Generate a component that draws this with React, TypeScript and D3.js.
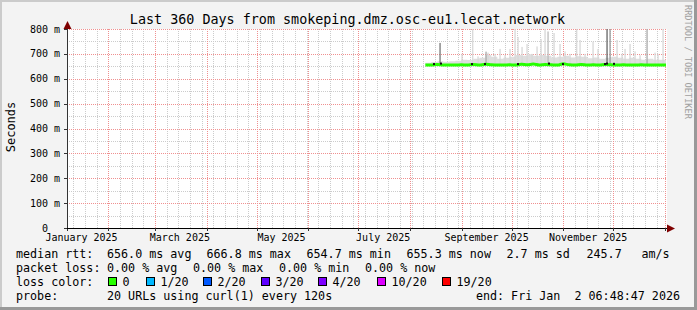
import React, { useEffect } from 'react';
import * as d3 from 'd3';

// time range of the graph (rrdtool "last 360 days")
const END = Date.UTC(2026, 0, 2, 6, 48, 47);
const START = END - 360 * 86400000;

// samples: days after START
const sampleDays = [215, 218.6, 222.2, 225.8, 229.4, 233, 236.6, 240.2, 243.8, 247.4, 251, 254.6, 258.2, 261.8, 265.4, 269, 272.6, 276.2, 279.8, 283.4, 287, 290.6, 294.2, 297.8, 301.4, 305, 308.6, 312.2, 315.8, 319.4, 323, 326.6, 330.2, 333.8, 337.4, 341, 344.6, 348.2, 351.8, 355.4, 359.4];
// median rtt (ms)
const medianRtt = [655, 655, 657, 655, 655, 655, 656, 655, 657, 655, 658, 656, 655, 655, 656, 655, 658, 656, 659, 655, 657, 656, 655, 660, 656, 655, 657, 655, 656, 655, 657, 656, 655, 656, 655, 655, 656, 655, 655, 655, 655];
// upper edge of the regular smoke band (ms)
const smokeTop = [664, 667, 670, 668, 670, 672, 676, 675, 680, 684, 695, 688, 680, 684, 688, 695, 692, 698, 692, 695, 692, 685, 688, 692, 685, 690, 688, 682, 685, 680, 684, 688, 684, 680, 684, 680, 676, 680, 676, 676, 675];

// single spikes in the smoke
const spikeDays = [223.8, 243.4, 251.4, 252.6, 268.8, 270.6, 273, 276, 284.4, 286.8, 288.6, 292.2, 295.8, 305.8, 307.8, 315.6, 324, 325.8, 330, 334.8, 337.8, 348, 357.6,
    237, 246.6, 256.8, 259.8, 262.8, 265.8, 279, 282, 298.8, 301.8, 310.8, 318.6, 333, 340.8, 343.8, 352.8, 354.6];
const spikeTop = [744, 800, 709, 705, 800, 768, 728, 740, 760, 800, 790, 784, 740, 800, 756, 749, 800, 800, 756, 720, 740, 800, 800,
    700, 690, 700, 720, 695, 720, 700, 730, 710, 700, 700, 720, 700, 710, 695, 705, 700];
const spikeShade = ['#777', '#d8d8d8', '#aaa', '#d8d8d8', '#d8d8d8', '#d8d8d8', '#d8d8d8', '#d8d8d8', '#d8d8d8', '#d8d8d8', '#bbb', '#d8d8d8', '#d8d8d8', '#d8d8d8', '#d8d8d8', '#d8d8d8', '#666', '#999', '#d8d8d8', '#d8d8d8', '#d8d8d8', '#aaa', '#d8d8d8',
    '#d8d8d8', '#d8d8d8', '#d8d8d8', '#d8d8d8', '#d8d8d8', '#d8d8d8', '#d8d8d8', '#d8d8d8', '#d8d8d8', '#d8d8d8', '#d8d8d8', '#d8d8d8', '#d8d8d8', '#d8d8d8', '#d8d8d8', '#d8d8d8', '#d8d8d8'];
// dark marks sitting on the median
const darkDays = [220.2, 224.4, 243, 250.8, 270.6, 289.2, 297.6, 322.8, 324, 328.2];

const yTicks = [0, 100, 200, 300, 400, 500, 600, 700, 800];
const yTickLabels = ['0', '100 m', '200 m', '300 m', '400 m', '500 m', '600 m', '700 m', '800 m'];
const xLabelMonths = ['January 2025', 'March 2025', 'May 2025', 'July 2025', 'September 2025', 'November 2025'];

const lossLabels = ['0', '1/20', '2/20', '3/20', '4/20', '10/20', '19/20'];
const lossColors = ['#26ff00', '#00b8ff', '#0059ff', '#5e00ff', '#7e00ff', '#dd00ff', '#ff0000'];
const lossBoxX = [108, 146, 203, 261, 318, 377, 442];

const rttStats = ['656.0 ms avg', '666.8 ms max', '654.7 ms min', '655.3 ms now', '2.7 ms sd', '245.7', 'am/s'];
const rttStatX = [107, 206.5, 306.5, 406.5, 506.5, 586.5, 641.5];
const lossStats = ['0.00 % avg', '0.00 % max', '0.00 % min', '0.00 % now'];
const lossStatX = [107, 193, 279, 365];

const W = 697;
const H = 310;
const mono = '"DejaVu Sans Mono", monospace';

const App = () => {
    useEffect(() => {
        document.body.style.margin = '0';
    }, []);

    const day = (d: number) => START + d * 86400000;
    const x = d3.scaleUtc().domain([START, END]).range([67, 667]);
    const y = d3.scaleLinear().domain([0, 800]).range([228, 29]);
    const yc = (v: number) => y(Math.min(v, 800));

    const minorV = d3.utcSaturday.range(new Date(START), new Date(END));
    const majorV = d3.utcMonth.range(new Date(START), new Date(END));
    const labelMonths = d3.utcMonth.every(2)!.range(new Date(Date.UTC(2025, 0, 1)), new Date(END));
    const minorH = d3.range(50, 801, 100);

    const pts = sampleDays.map((d, i) => ({ t: day(d), m: medianRtt[i], s: smokeTop[i] }));
    const band = d3.area<any>().x(p => x(p.t)).y0(p => y(p.m)).y1(p => yc(p.s)).curve(d3.curveStepAfter)(pts);
    const median = d3.line<any>().x(p => x(p.t)).y(p => y(p.m)).curve(d3.curveMonotoneX)(pts);
    const medAt = (d: number) => medianRtt[Math.min(sampleDays.length - 1, d3.bisectRight(sampleDays, d) - 1)];

    return (
        <svg width={W} height={H} style={{ display: 'block' }} fontFamily={mono}>
            <rect x={0} y={0} width={W} height={H} fill="#f3f3f3" />
            <rect x={0} y={0} width={W} height={2} fill="#cbcbcb" />
            <rect x={0} y={0} width={2} height={H} fill="#cbcbcb" />
            <rect x={W - 3} y={0} width={3} height={H} fill="#999" />
            <rect x={0} y={H - 3} width={W} height={3} fill="#999" />

            <text x={347.5} y={23.5} fontSize={13.4} textAnchor="middle" fill="#000">
                Last 360 Days from smokeping.dmz.osc-eu1.lecat.network
            </text>
            <text transform={`translate(684.5,5) rotate(90)`} fontSize={8.6} fill="#a0a0a0">
                RRDTOOL / TOBI OETIKER
            </text>
            <text transform={`translate(15,127) rotate(-90)`} fontSize={12} textAnchor="middle" fill="#000">
                Seconds
            </text>

            <rect x={67} y={29} width={600} height={199} fill="#fff" />
            <g strokeWidth={1} strokeDasharray="1,1">
                {minorH.map(v => (
                    <line key={'mh' + v} x1={67} x2={667} y1={Math.round(y(v)) + 0.5} y2={Math.round(y(v)) + 0.5} stroke="#ccc" />
                ))}
                {minorV.map(t => (
                    <line key={'mv' + +t} x1={Math.round(x(t)) + 0.5} x2={Math.round(x(t)) + 0.5} y1={29} y2={228} stroke="#ccc" />
                ))}
                {yTicks.slice(1).map(v => (
                    <line key={'Mh' + v} x1={67} x2={667} y1={Math.round(y(v)) + 0.5} y2={Math.round(y(v)) + 0.5} stroke="#f09090" />
                ))}
                {majorV.map(t => (
                    <line key={'Mv' + +t} x1={Math.round(x(t)) + 0.5} x2={Math.round(x(t)) + 0.5} y1={29} y2={228} stroke="#f09090" />
                ))}
            </g>

            <path d={band!} fill="#dedede" />
            {spikeDays.map((d, i) => (
                <rect key={'sp' + i} x={x(day(d)) - 0.6} width={1.3} y={yc(spikeTop[i])} height={y(medAt(d)) - yc(spikeTop[i])} fill={spikeShade[i]} />
            ))}
            <path d={median!} fill="none" stroke="#26ff00" strokeWidth={3} />
            {darkDays.map((d, i) => (
                <rect key={'dk' + i} x={x(day(d)) - 1} width={2} y={y(medAt(d)) - 2} height={2} fill="#111" />
            ))}

            {/* axes */}
            <line x1={67.5} x2={67.5} y1={24} y2={231} stroke="#333" />
            <line x1={64} x2={670} y1={228.5} y2={228.5} stroke="#000" />
            <path d="M63.5,29 L67.5,21 L71.5,29 Z" fill="#7f0000" />
            <path d="M667,224.5 L675,228.5 L667,232.5 Z" fill="#7f0000" />
            {yTicks.map(v => (
                <line key={'yt' + v} x1={64} x2={67} y1={Math.round(y(v)) + 0.5} y2={Math.round(y(v)) + 0.5} stroke="#333" />
            ))}
            {majorV.map(t => (
                <line key={'xt' + +t} x1={Math.round(x(t)) + 0.5} x2={Math.round(x(t)) + 0.5} y1={228} y2={231} stroke="#333" />
            ))}

            {yTicks.map((v, i) => (
                <text key={'yl' + v} x={v === 0 ? 48 : 60} y={y(v) + 3.5} fontSize={10} textAnchor="end" fill="#000">
                    {yTickLabels[i]}
                </text>
            ))}
            {labelMonths.map((t, i) => (
                <text key={'xl' + i} x={x(d3.utcDay.offset(t, 15))} y={241} fontSize={10} textAnchor="middle" fill="#000">
                    {xLabelMonths[i]}
                </text>
            ))}

            {/* legend */}
            <g fontSize={11.7} fill="#000">
                <text x={16} y={257.5}>median rtt:</text>
                {rttStats.map((s, i) => (
                    <text key={'rs' + i} x={rttStatX[i]} y={257.5}>{s}</text>
                ))}
                <text x={16} y={271.7}>packet loss:</text>
                {lossStats.map((s, i) => (
                    <text key={'ls' + i} x={lossStatX[i]} y={271.7}>{s}</text>
                ))}
                <text x={16} y={285.9}>loss color:</text>
                {lossLabels.map((s, i) => (
                    <g key={'lc' + i}>
                        <rect x={lossBoxX[i] + 0.5} y={277.5} width={8} height={8} fill={lossColors[i]} stroke="#000" />
                        <text x={lossBoxX[i] + 14.5} y={285.9}>{s}</text>
                    </g>
                ))}
                <text x={16} y={300.1}>probe:</text>
                <text x={107} y={300.1}>20 URLs using curl(1) every 120s</text>
                <text x={680} y={300.1} textAnchor="end" xmlSpace="preserve" style={{ whiteSpace: 'pre' }}>{'end: Fri Jan  2 06:48:47 2026'}</text>
            </g>
        </svg>
    );
};

export default App;
